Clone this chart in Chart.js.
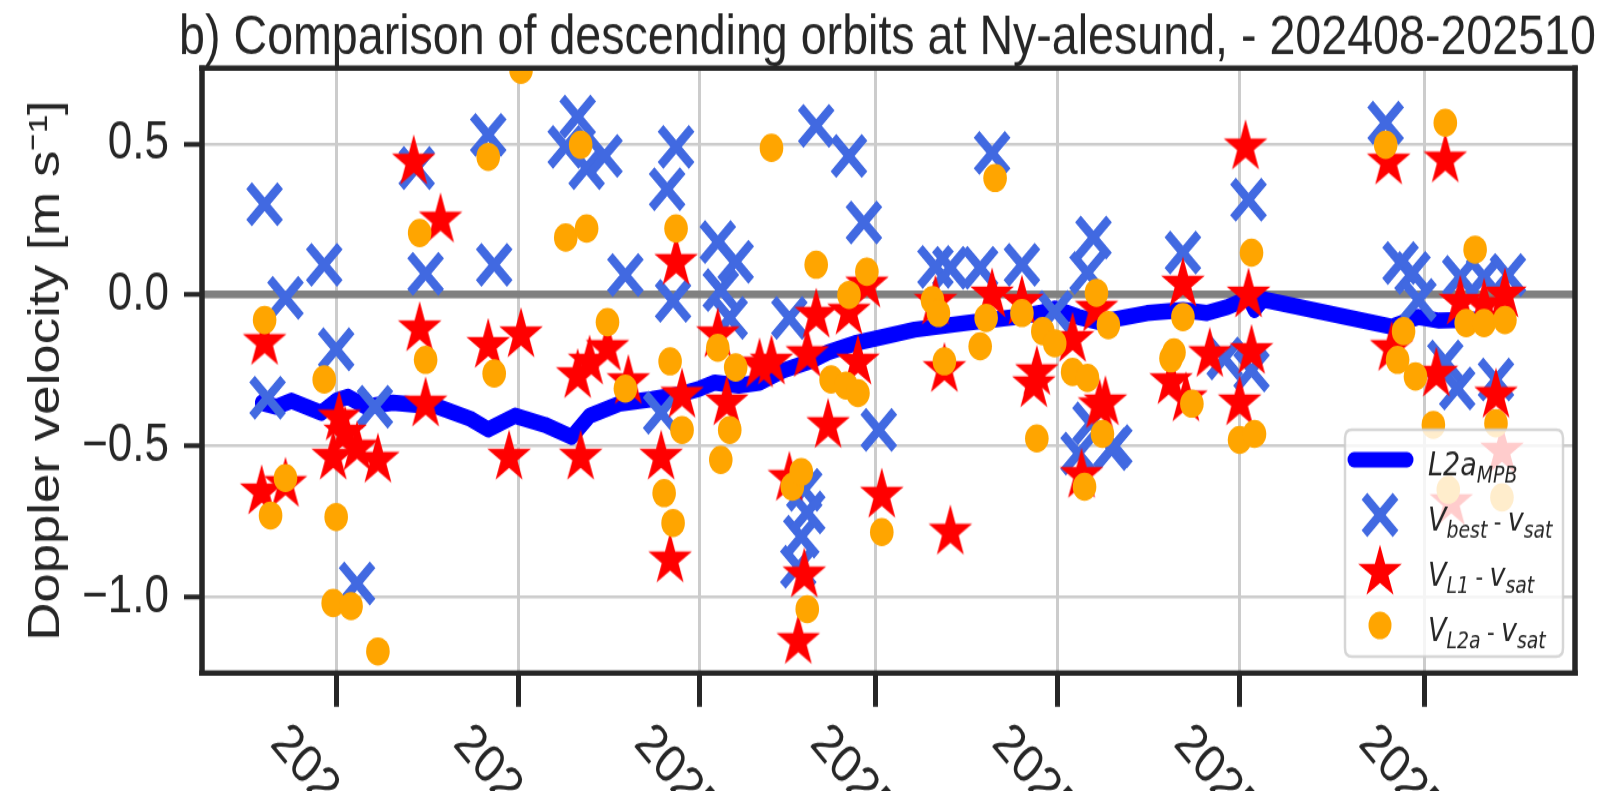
<!DOCTYPE html>
<html><head><meta charset="utf-8">
<script src="https://cdn.jsdelivr.net/npm/chart.js@4.4.0/dist/chart.umd.min.js"></script>
<style>html,body{margin:0;padding:0;background:#fff;overflow:hidden}</style>
</head><body>
<canvas id="c" width="1605" height="659" style="display:block;width:1605px;height:791px"></canvas>
<script>
const titleText = 'b) Comparison of descending orbits at Ny-alesund, - 202408-202510';
const yTitle = 'Doppler velocity [m s\u207B\u00B9]';
const tickDates = ['2024-09-01','2024-11-01','2025-01-01','2025-03-01','2025-05-01','2025-07-01','2025-09-01'];
const tickLabels = ['2024-09','2024-11','2025-01','2025-03','2025-05','2025-07','2025-09'];
const yTicks = [-1.0, -0.5, 0.0, 0.5];
const xLimits = ['2024-07-18T00:00:00Z', '2025-10-21T12:00:00Z'];
const yLimits = [-1.252, 0.751];
const legendLabels = ['L2a_{MPB}', 'V_{best} - v_{sat}', 'V_{L1} - v_{sat}', 'V_{L2a} - v_{sat}'];

// L2a_MPB line
const lineDates = ['2024-08-07','2024-08-12','2024-08-17','2024-08-22','2024-08-27','2024-09-01','2024-09-05','2024-09-11','2024-09-20','2024-09-29','2024-10-05','2024-10-16','2024-10-22','2024-10-31','2024-11-10','2024-11-19','2024-11-25','2024-11-30','2024-12-05','2024-12-16','2024-12-25','2025-01-01','2025-01-06','2025-01-14','2025-01-21','2025-01-29','2025-02-07','2025-02-13','2025-02-22','2025-03-03','2025-03-14','2025-03-31','2025-04-17','2025-04-25','2025-04-30','2025-05-08','2025-05-15','2025-05-31','2025-06-12','2025-06-20','2025-06-27','2025-07-04','2025-07-06','2025-07-09','2025-08-21','2025-08-30','2025-09-06','2025-09-26'];
const lineVals = [-0.357,-0.37,-0.35,-0.37,-0.39,-0.35,-0.337,-0.37,-0.357,-0.365,-0.37,-0.41,-0.445,-0.40,-0.43,-0.47,-0.40,-0.38,-0.36,-0.345,-0.33,-0.31,-0.29,-0.30,-0.29,-0.25,-0.22,-0.19,-0.16,-0.14,-0.115,-0.093,-0.073,-0.06,-0.045,-0.073,-0.09,-0.06,-0.05,-0.06,-0.04,-0.01,-0.05,-0.015,-0.105,-0.073,-0.085,-0.08];

// V_best - v_sat
const bestDates = ['2024-08-08','2024-08-09','2024-08-15','2024-08-28','2024-09-01','2024-09-08','2024-09-14','2024-09-28','2024-10-01','2024-10-22','2024-10-24','2024-11-17','2024-11-21','2024-11-24','2024-11-30','2024-12-07','2024-12-19','2024-12-21','2024-12-23','2024-12-24','2025-01-07','2025-01-08','2025-01-11','2025-01-13','2025-01-31','2025-02-03','2025-02-04','2025-02-05','2025-02-06','2025-02-09','2025-02-20','2025-02-25','2025-03-02','2025-03-21','2025-03-26','2025-04-05','2025-04-09','2025-04-19','2025-04-30','2025-05-08','2025-05-11','2025-05-12','2025-05-13','2025-05-19','2025-05-20','2025-06-12','2025-06-26','2025-07-04','2025-07-05','2025-08-19','2025-08-24','2025-08-28','2025-08-30','2025-09-08','2025-09-12','2025-09-13','2025-09-21','2025-09-25','2025-09-29'];
const bestVals = [0.30,-0.34,-0.01,0.10,-0.18,-0.955,-0.37,0.42,0.07,0.53,0.10,0.49,0.59,0.42,0.46,0.066,-0.39,0.35,-0.02,0.49,0.175,0.016,-0.076,0.11,-0.076,-0.90,-0.80,-0.645,-0.72,0.56,0.46,0.24,-0.447,0.093,0.09,0.09,0.47,0.10,-0.056,-0.525,0.073,-0.425,0.19,-0.51,-0.50,0.14,-0.21,0.315,-0.25,0.57,0.106,0.073,-0.017,-0.22,-0.31,0.06,0.06,-0.28,0.066];

// V_L1 - v_sat
const l1Dates = ['2024-08-07','2024-08-08','2024-08-15','2024-08-31','2024-09-02','2024-09-04','2024-09-08','2024-09-15','2024-09-27','2024-09-29','2024-10-01','2024-10-06','2024-10-22','2024-10-29','2024-11-02','2024-11-21','2024-11-22','2024-11-25','2024-12-01','2024-12-08','2024-12-19','2024-12-22','2024-12-24','2024-12-26','2025-01-07','2025-01-10','2025-01-21','2025-01-25','2025-01-31','2025-02-03','2025-02-05','2025-02-06','2025-02-09','2025-02-13','2025-02-20','2025-02-23','2025-02-26','2025-03-03','2025-03-21','2025-03-24','2025-03-26','2025-04-09','2025-04-19','2025-04-23','2025-04-24','2025-05-06','2025-05-09','2025-05-14','2025-05-15','2025-05-17','2025-06-08','2025-06-12','2025-06-13','2025-06-21','2025-07-01','2025-07-03','2025-07-04','2025-07-05','2025-08-20','2025-08-21','2025-09-05','2025-09-08','2025-09-10','2025-09-13','2025-09-21','2025-09-25','2025-09-27','2025-09-28'];
const l1Vals = [-0.645,-0.15,-0.62,-0.53,-0.40,-0.45,-0.50,-0.54,0.447,-0.105,-0.354,0.255,-0.16,-0.53,-0.125,-0.26,-0.53,-0.215,-0.17,-0.28,-0.53,-0.87,0.115,-0.325,-0.125,-0.35,-0.225,-0.215,-0.60,-1.14,-0.92,-0.19,-0.06,-0.425,-0.05,-0.215,0.04,-0.656,-0.017,-0.24,-0.778,0.007,-0.017,-0.29,-0.25,-0.14,-0.59,-0.04,-0.36,-0.35,-0.28,0.043,-0.337,-0.19,-0.35,0.497,0.007,-0.18,0.447,-0.17,-0.255,0.454,-0.68,-0.017,-0.027,-0.325,-0.51,0.007];

// V_L2a - v_sat
const l2aDates = ['2024-08-08','2024-08-10','2024-08-15','2024-08-28','2024-08-31','2024-09-01','2024-09-06','2024-09-15','2024-09-29','2024-10-01','2024-10-22','2024-10-24','2024-11-02','2024-11-17','2024-11-22','2024-11-24','2024-12-01','2024-12-07','2024-12-20','2024-12-22','2024-12-23','2024-12-24','2024-12-26','2025-01-07','2025-01-08','2025-01-11','2025-01-13','2025-01-25','2025-02-01','2025-02-04','2025-02-06','2025-02-09','2025-02-14','2025-02-19','2025-02-20','2025-02-23','2025-02-26','2025-03-03','2025-03-20','2025-03-22','2025-03-24','2025-04-05','2025-04-07','2025-04-10','2025-04-19','2025-04-24','2025-04-26','2025-04-30','2025-05-06','2025-05-10','2025-05-11','2025-05-14','2025-05-16','2025-05-18','2025-06-08','2025-06-09','2025-06-12','2025-06-15','2025-07-01','2025-07-05','2025-07-06','2025-08-19','2025-08-23','2025-08-25','2025-08-29','2025-09-04','2025-09-08','2025-09-09','2025-09-15','2025-09-18','2025-09-21','2025-09-25','2025-09-27','2025-09-28'];
const l2aVals = [-0.083,-0.73,-0.606,-0.28,-1.02,-0.735,-1.03,-1.18,0.205,-0.215,0.457,-0.26,0.745,0.19,0.497,0.22,-0.09,-0.31,-0.656,-0.22,-0.755,0.22,-0.447,-0.175,-0.546,-0.447,-0.24,0.487,-0.635,-0.586,-1.04,0.10,-0.28,-0.30,0.0,-0.325,0.077,-0.785,-0.017,-0.06,-0.22,-0.17,-0.076,0.387,-0.06,-0.475,-0.12,-0.16,-0.255,-0.635,-0.275,0.007,-0.46,-0.10,-0.21,-0.19,-0.073,-0.36,-0.48,0.14,-0.46,0.497,-0.215,-0.12,-0.27,-0.43,0.57,-0.645,-0.093,0.15,-0.093,-0.425,-0.67,-0.083];

const T0 = Date.parse('2024-09-01T00:00:00Z');
const dayOf = s => (Date.parse(s.length === 10 ? s + 'T00:00:00Z' : s) - T0) / 864e5;
const pts = (ds, vs) => ds.map((d, i) => ({x: dayOf(d), y: vs[i]}));

const FONT = '"Liberation Sans", Arial, sans-serif';
const INK = '#262626';
const C_LINE = '#0000ff', C_BEST = '#4169e1', C_L1 = '#ff0000', C_L2A = '#ffa500';

function makeStar(R, color) {
  const size = Math.ceil(2 * R + 4);
  const c = document.createElement('canvas'); c.width = size; c.height = size;
  const g = c.getContext('2d');
  const cx = size / 2, cy = size / 2 + R * 0.08, r = R * 0.381966;
  g.beginPath();
  for (let i = 0; i < 10; i++) {
    const a = -Math.PI / 2 + i * Math.PI / 5, rr = i % 2 ? r : R;
    g.lineTo(cx + rr * Math.cos(a), cy + rr * Math.sin(a));
  }
  g.closePath(); g.fillStyle = color; g.fill();
  return c;
}
const starImg = makeStar(23, C_L1);

function drawMath(ctx, str, x, y, fs) {
  const parts = str.split(/(_\{[^}]*\}| - )/).filter(p => p.length);
  let cx = x;
  for (const p of parts) {
    let font, dy = 0, t = p;
    if (p.startsWith('_{')) { t = p.slice(2, -1); font = `italic ${fs * 0.7}px "DejaVu Sans"`; dy = fs * 0.22; }
    else if (p === ' - ') { font = `${fs * 0.85}px ${FONT}`; }
    else { font = `italic ${fs}px "DejaVu Sans"`; }
    ctx.font = font;
    ctx.fillText(t, cx, y + dy);
    cx += ctx.measureText(t).width;
  }
}

const decor = {
  id: 'decor',
  afterDatasetsDraw(chart) {
    const {ctx, chartArea: a} = chart;
    ctx.save();
    ctx.strokeStyle = INK;
    ctx.lineWidth = 5.5;
    ctx.beginPath();
    ctx.moveTo(a.left, a.top - 2.3); ctx.lineTo(a.left, a.bottom + 2.3);
    ctx.moveTo(a.right, a.top - 2.3); ctx.lineTo(a.right, a.bottom + 2.3);
    ctx.stroke();
    ctx.lineWidth = 4.6;
    ctx.beginPath();
    ctx.moveTo(a.left - 2.75, a.top); ctx.lineTo(a.right + 2.75, a.top);
    ctx.moveTo(a.left - 2.75, a.bottom); ctx.lineTo(a.right + 2.75, a.bottom);
    ctx.stroke();

    // legend
    const bx = 1345, by = 358, bw = 218, bh = 189, rad = 7;
    ctx.beginPath();
    ctx.moveTo(bx + rad, by); ctx.lineTo(bx + bw - rad, by); ctx.quadraticCurveTo(bx + bw, by, bx + bw, by + rad);
    ctx.lineTo(bx + bw, by + bh - rad); ctx.quadraticCurveTo(bx + bw, by + bh, bx + bw - rad, by + bh);
    ctx.lineTo(bx + rad, by + bh); ctx.quadraticCurveTo(bx, by + bh, bx, by + bh - rad);
    ctx.lineTo(bx, by + rad); ctx.quadraticCurveTo(bx, by, bx + rad, by);
    ctx.closePath();
    ctx.fillStyle = 'rgba(255,255,255,0.8)'; ctx.fill();
    ctx.strokeStyle = 'rgba(204,204,204,0.8)'; ctx.lineWidth = 2.5; ctx.stroke();

    const hx = 1380, ys = [383, 429, 475, 521];
    ctx.lineCap = 'round';
    ctx.strokeStyle = C_LINE; ctx.lineWidth = 13;
    ctx.beginPath(); ctx.moveTo(hx - 26, ys[0]); ctx.lineTo(hx + 27, ys[0]); ctx.stroke();
    ctx.lineCap = 'butt';
    const o = 22 * Math.SQRT1_2;
    ctx.strokeStyle = C_BEST; ctx.lineWidth = 8;
    ctx.beginPath();
    ctx.moveTo(hx - o, ys[1] - o); ctx.lineTo(hx + o, ys[1] + o);
    ctx.moveTo(hx + o, ys[1] - o); ctx.lineTo(hx - o, ys[1] + o);
    ctx.stroke();
    ctx.drawImage(starImg, hx - starImg.width / 2, ys[2] - starImg.height / 2);
    ctx.fillStyle = C_L2A; ctx.beginPath(); ctx.arc(hx, ys[3], 11.5, 0, Math.PI * 2); ctx.fill();

    ctx.fillStyle = INK; ctx.textAlign = 'left'; ctx.textBaseline = 'alphabetic';
    legendLabels.forEach((lab, i) => drawMath(ctx, lab, 1428, ys[i] + 13, 27));
    ctx.restore();
  },
  afterDraw(chart) {
    const {ctx, chartArea: a} = chart;
    const xs = chart.scales.x;
    ctx.save();
    // title, centred on the axes box (may be wider than it)
    ctx.font = `46.6px ${FONT}`; ctx.fillStyle = INK;
    ctx.textAlign = 'center'; ctx.textBaseline = 'alphabetic';
    ctx.fillText(titleText, (a.left + a.right) / 2 - 1, 45);
    // rotated x tick labels
    ctx.font = `45px ${FONT}`;
    ctx.textAlign = 'left'; ctx.textBaseline = 'top';
    const c = Math.SQRT1_2, h = 45, top = a.bottom + 28 + 7;
    tickDates.forEach((d, i) => {
      const px = xs.getPixelForValue(dayOf(d));
      const L = ctx.measureText(tickLabels[i]).width;
      ctx.save();
      ctx.translate(px - (L * c - h * c) / 2, top);
      ctx.rotate(Math.PI / 4);
      ctx.fillText(tickLabels[i], 0, 0);
      ctx.restore();
    });
    ctx.restore();
  }
};

new Chart(document.getElementById('c'), {
  type: 'scatter',
  data: {
    datasets: [
      { label: 'L2a - vsat', data: pts(l2aDates, l2aVals), pointStyle: 'circle', pointRadius: 11.8,
        backgroundColor: C_L2A, borderWidth: 0, clip: 0 },
      { label: 'L1 - vsat', data: pts(l1Dates, l1Vals), pointStyle: starImg, pointRadius: 22,
        backgroundColor: C_L1, borderWidth: 0, clip: 0 },
      { label: 'best - vsat', data: pts(bestDates, bestVals), pointStyle: 'crossRot', pointRadius: 22,
        borderColor: C_BEST, backgroundColor: C_BEST, borderWidth: 8, clip: 0 },
      { label: 'L2a MPB', data: pts(lineDates, lineVals), showLine: true, pointRadius: 0,
        borderColor: C_LINE, borderWidth: 13.5, borderJoinStyle: 'round', borderCapStyle: 'round',
        tension: 0, clip: 0 }
    ]
  },
  options: {
    responsive: false, animation: false, devicePixelRatio: 1, events: [],
    layout: { padding: { left: 0, right: 28, top: 56.7, bottom: 0 } },
    plugins: {
      legend: { display: false }, tooltip: { enabled: false }, title: { display: false }
    },
    scales: {
      x: {
        type: 'linear', min: dayOf(xLimits[0]), max: dayOf(xLimits[1]),
        afterBuildTicks: s => { s.ticks = tickDates.map(d => ({ value: dayOf(d) })); },
        afterFit: s => { s.height = 98.2; },
        ticks: { display: false },
        grid: { color: '#cccccc', lineWidth: 3, drawTicks: true, tickLength: 28, tickWidth: 5, tickColor: INK },
        border: { display: false }
      },
      y: {
        min: yLimits[0], max: yLimits[1],
        afterBuildTicks: s => { s.ticks = yTicks.map(v => ({ value: v })); },
        afterFit: s => { s.width = 202; },
        ticks: { color: INK, font: { family: FONT, size: 44 }, padding: 15,
          callback: v => (v < 0 ? '\u2212' : '') + Math.abs(v).toFixed(1) },
        grid: {
          color: c => (c.tick && c.tick.value === 0) ? '#808080' : '#cccccc',
          lineWidth: c => (c.tick && c.tick.value === 0) ? 6.5 : 2.6,
          drawTicks: true, tickLength: 18, tickWidth: 4, tickColor: INK
        },
        border: { display: false },
        title: { display: true, text: yTitle, color: INK, font: { family: FONT, size: 44 },
          padding: { top: 20.6, bottom: 0 } }
      }
    }
  },
  plugins: [decor]
});
</script>
</body></html>
